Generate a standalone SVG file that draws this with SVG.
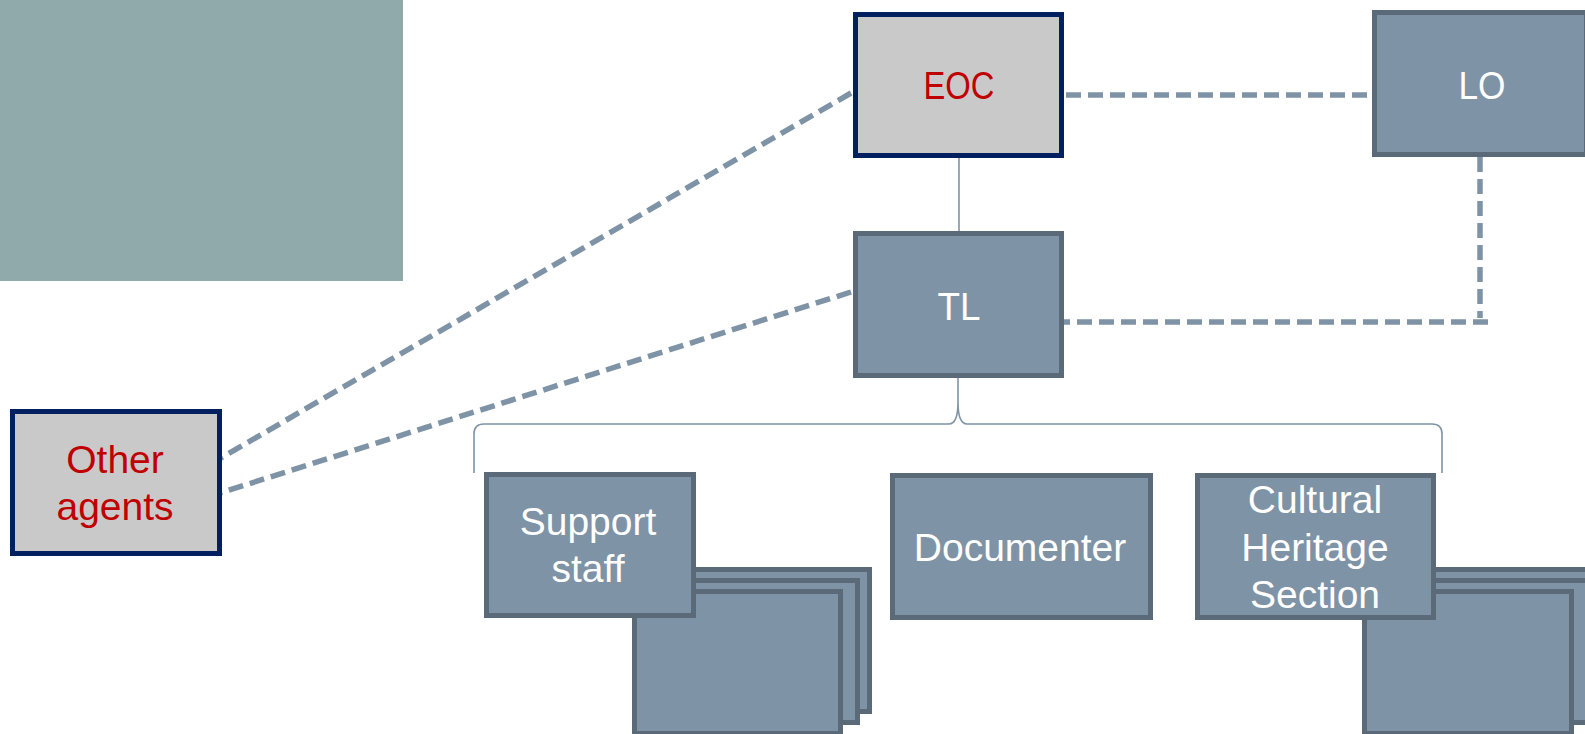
<svg xmlns="http://www.w3.org/2000/svg" width="1585" height="734" viewBox="0 0 1585 734">
  <style>
    .box { fill: #7f93a6; stroke: #5b6a78; stroke-width: 5; }
    .hl { fill: #c9c9c9; stroke: #002060; stroke-width: 5; }
    .t { font-family: "Liberation Sans", Arial, sans-serif; font-size: 39px; text-anchor: middle; fill: #ffffff; }
    .r { fill: #c00000; }
    .dash { fill: none; stroke: #7f93a6; stroke-width: 5.5; stroke-dasharray: 15 7; }
    .thin { fill: none; stroke: #7f93a6; stroke-width: 1.6; }
  </style>
  <rect id="panel" x="0" y="0" width="403" height="281" fill="#90aaab"/>
  <g id="connectors">
    <line class="dash" x1="851" y1="93" x2="219" y2="459"/>
    <line class="dash" x1="851" y1="292" x2="220" y2="493"/>
    <line class="dash" x1="1066" y1="95" x2="1376" y2="95"/>
    <line class="dash" x1="1480" y1="157" x2="1480" y2="318"/>
    <line class="dash" x1="1488" y1="322" x2="1064" y2="322"/>
    <line class="thin" x1="959" y1="157" x2="959" y2="233"/>
    <path class="thin" d="M474,473 L474,434 C474,427 477,424 484,424 L949,424 C955,424 958,418 958,402 L958,378 L958,402 C958,418 961,424 967,424 L1432,424 C1439,424 1442,427 1442,434 L1442,473"/>
  </g>
  <g id="eoc">
    <rect class="hl" x="855.5" y="14.5" width="206" height="141"/>
    <text class="t r" x="959" y="99" textLength="71" lengthAdjust="spacingAndGlyphs">EOC</text>
  </g>
  <g id="lo">
    <rect class="box" x="1374.5" y="12.5" width="212" height="142"/>
    <text class="t" x="1482" y="99" textLength="47" lengthAdjust="spacingAndGlyphs">LO</text>
  </g>
  <g id="tl">
    <rect class="box" x="855.5" y="233.5" width="206" height="142"/>
    <text class="t" x="959" y="320" textLength="43" lengthAdjust="spacingAndGlyphs">TL</text>
  </g>
  <g id="other-agents">
    <rect class="hl" x="12.5" y="411.5" width="207" height="142"/>
    <text class="t r" x="115" y="473">Other</text>
    <text class="t r" x="115" y="520">agents</text>
  </g>
  <g id="support-staff">
    <rect class="box" x="663.5" y="569.5" width="206" height="142"/>
    <rect class="box" x="651.5" y="580.5" width="206" height="142"/>
    <rect class="box" x="634.5" y="591.5" width="206" height="142"/>
    <rect class="box" x="486.5" y="474.5" width="207" height="141"/>
    <text class="t" x="588" y="535">Support</text>
    <text class="t" x="588" y="582">staff</text>
  </g>
  <g id="documenter">
    <rect class="box" x="892.5" y="475.5" width="258" height="142"/>
    <text class="t" x="1020" y="561">Documenter</text>
  </g>
  <g id="cultural-heritage">
    <rect class="box" x="1393.5" y="569.5" width="207" height="142"/>
    <rect class="box" x="1381.5" y="580.5" width="207" height="142"/>
    <rect class="box" x="1364.5" y="591.5" width="207" height="142"/>
    <rect class="box" x="1197.5" y="475.5" width="236" height="142"/>
    <text class="t" x="1315" y="513">Cultural</text>
    <text class="t" x="1315" y="561">Heritage</text>
    <text class="t" x="1315" y="608">Section</text>
  </g>
</svg>
